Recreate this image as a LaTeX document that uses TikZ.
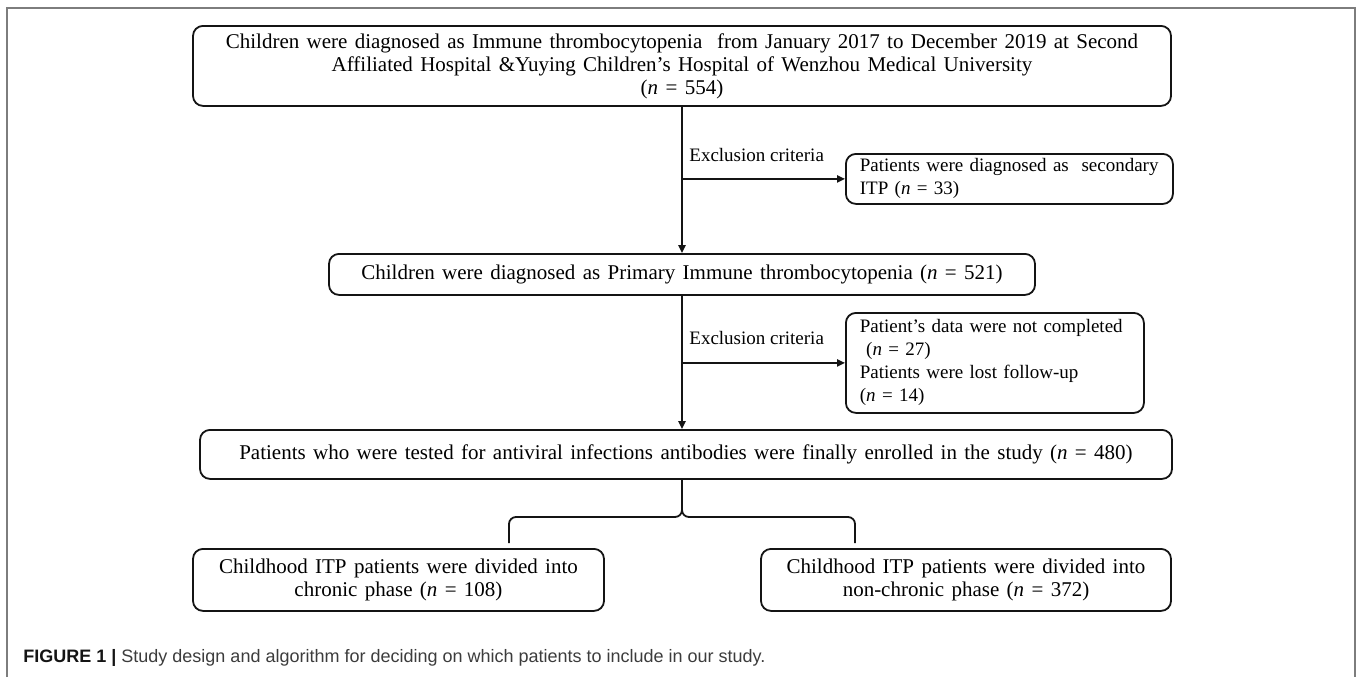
\documentclass[tikz,border=0pt]{standalone}
\usepackage{fontspec}
\setmainfont{Liberation Serif}
\newfontfamily\widefont{Liberation Serif}[WordSpace=1.4]
\newfontfamily\capfont{Liberation Sans}
\usetikzlibrary{arrows.meta,positioning}
\definecolor{ink}{RGB}{20,20,20}
\definecolor{rim}{RGB}{125,125,125}
\definecolor{captxt}{RGB}{60,60,60}
\tikzset{
  box/.style={draw=ink,line width=0.9pt,rounded corners=5pt,inner sep=0pt,
    font=\widefont\fontsize{10.5}{11.5}\selectfont,align=center,anchor=north},
  sidebox/.style={box,align=left,anchor=north west,inner xsep=7pt,
    font=\fontsize{9.5}{11.5}\selectfont},
  ar/.style={-{Triangle[length=4pt,width=3.6pt]},line width=0.9pt,draw=ink},
  brace/.style={line width=0.9pt,draw=ink,rounded corners=3.5pt},
  tag/.style={font=\fontsize{9.5}{11.5}\selectfont,inner sep=0pt,anchor=west},
}
\newcommand{\nn}{\textit{n}}

\begin{document}
\begin{tikzpicture}[x=0.5pt,y=-0.5pt]
  \useasboundingbox (0,0) rectangle (1357,677);
  \draw[rim,line width=0.7pt] (7,677) -- (7,8) -- (1355,8) -- (1355,677);
  % main column
  \node[box,minimum width=489pt,minimum height=40pt] (all) at (682,25)
    {Children were diagnosed as Immune thrombocytopenia\ \ from January 2017 to December 2019 at Second\\
     Affiliated Hospital \&Yuying Children’s Hospital of Wenzhou Medical University\\
     (\nn{} = 554)};
  \node[box,minimum width=353pt,minimum height=20.5pt] (prim) at (682,253)
    {Children were diagnosed as Primary Immune thrombocytopenia (\nn{} = 521)};
  \node[box,minimum width=486pt,minimum height=24.5pt] (enrol) at (686,429)
    {Patients who were tested for antiviral infections antibodies were finally enrolled in the study (\nn{} = 480)};
  \node[box,minimum width=205.5pt,minimum height=31pt] (chron) at (398.5,548)
    {Childhood ITP patients were divided into\\ chronic phase (\nn{} = 108)};
  \node[box,minimum width=205pt,minimum height=31pt] (nonchron) at (966,548)
    {Childhood ITP patients were divided into\\ non-chronic phase (\nn{} = 372)};
  % excluded
  \node[sidebox,text width=149.5pt,minimum height=25pt] (second) at (845,153)
    {Patients were diagnosed as\ \ secondary\\ ITP (\nn{} = 33)};
  \node[sidebox,text width=135pt,minimum height=50pt] (lost) at (845,312)
    {Patient’s data were not completed\\ ~(\nn{} = 27)\\ Patients were lost follow-up\\ (\nn{} = 14)};
  \node[tag] (ex1) at (689,155) {Exclusion criteria};
  \node[tag] (ex2) at (689,338) {Exclusion criteria};
  \draw[ar] (all.south) -- (prim.north);
  \draw[ar] (all.south |- second.west) -- (second.west);
  \draw[ar] (prim.south) -- (prim.south |- enrol.north);
  \draw[ar] (prim.south |- lost.west) -- (lost.west);
  % split
  \coordinate (cusp) at (682,517);
  \coordinate (lend) at (509,543);
  \coordinate (rend) at (855,543);
  \draw[brace] (enrol.south -| cusp) -- (cusp) -| (lend);
  \draw[brace] (enrol.south -| cusp) -- (cusp) -| (rend);
  \node[anchor=west,inner sep=0pt,text=captxt,font=\capfont\fontsize{9}{11}\selectfont] (cap) at (23,658)
    {\textbf{\color{ink}FIGURE 1 |} Study design and algorithm for deciding on which patients to include in our study.};
\end{tikzpicture}
\end{document}
